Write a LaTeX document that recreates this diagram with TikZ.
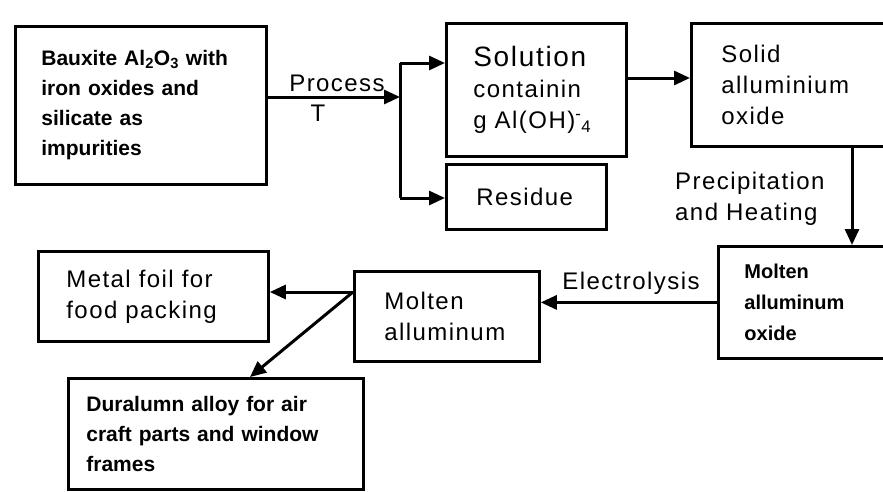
\documentclass[tikz,border=0pt]{standalone}
\usepackage{fontspec}
\setmainfont{Liberation Sans}
\usetikzlibrary{arrows.meta}
\newcommand\regf{\fontsize{24}{31}\selectfont\addfontfeature{LetterSpace=6}}
\newcommand\bldf{\fontsize{21}{30}\selectfont\bfseries}
\tikzset{
  box/.style={draw, line width=2.8pt, anchor=north west, align=left, inner ysep=0pt},
  arr/.style={line width=3pt, -{Triangle[length=16pt,width=14pt]}},
  conn/.style={line width=3pt},
  lbl/.style={inner sep=0pt, font=\regf},
}
\begin{document}
\begin{tikzpicture}[x=1pt,y=-1pt]
\useasboundingbox (0,0) rectangle (883,491);
\clip (0,0) rectangle (883,491);
\fill[white] (0,0) rectangle (883,491);

% boxes
\node[box, font=\bldf, text width=199pt, inner xsep=26pt, minimum height=158pt] (b1) at (14,25)
  {Bauxite Al\textsubscript{2}O\textsubscript{3} with\\iron oxides and\\silicate as\\impurities};
\node[box, font=\regf, text width=126pt, inner xsep=27pt, minimum height=133pt] (sol) at (445,22)
  {{\fontsize{28}{32}\selectfont Solution}\\containin\\g Al(OH)\textsuperscript{-}\textsubscript{4}};
\node[box, font=\regf, text width=100pt, inner xsep=30pt, minimum height=65pt] (res) at (445,163)
  {Residue};
\node[box, font=\regf, text width=140pt, inner xsep=30pt, minimum height=123pt] (sld) at (690,22)
  {Solid\\alluminium\\oxide};
\node[box, font={\fontsize{20}{31}\selectfont\bfseries}, text width=128pt, inner xsep=26pt, minimum height=112pt] (mox) at (717,245)
  {Molten\\alluminum\\oxide};
\node[box, font=\regf, text width=125pt, inner xsep=30pt, minimum height=90pt] (mal) at (353,270)
  {Molten\\alluminum};
\node[box, font=\regf, text width=174pt, inner xsep=28pt, minimum height=90pt] (foil) at (37,250)
  {Metal foil for\\food packing};
\node[box, font=\bldf, text width=259pt, inner xsep=18pt, minimum height=111pt] (dur) at (67,377)
  {Duralumn alloy for air\\craft parts and window\\frames};

% labels
\node[lbl] (proc) at (337,83) {Process};
\node[lbl] (tt) at (318,113) {T};
\node[lbl, anchor=west, align=left] (prec) at (675,199) {Precipitation\\and Heating};
\node[lbl] (elec) at (631,283) {Electrolysis};

% connectors
\coordinate (split) at (400,97);
\coordinate (ta) at (400,63);
\coordinate (tb) at (400,198);
\draw[arr] (split -| b1.east) -- (split);
\draw[conn] (ta) -- (tb);
\draw[arr] (ta) -- (ta -| sol.west);
\draw[arr] (tb) -- (tb -| res.west);
\coordinate (s2) at (0,78);
\draw[arr] (s2 -| sol.east) -- (s2 -| sld.west);
\coordinate (dx) at (852,0);
\draw[arr] (dx |- sld.south) -- (dx |- mox.north);
\draw[arr] (mox.west) -- (mox.west -| mal.east);
\coordinate (src) at (353,292);
\coordinate (dtip) at (250,377);
\draw[arr] (src) -- (src -| foil.east);
\draw[arr] (src) -- (dtip);
\end{tikzpicture}
\end{document}
